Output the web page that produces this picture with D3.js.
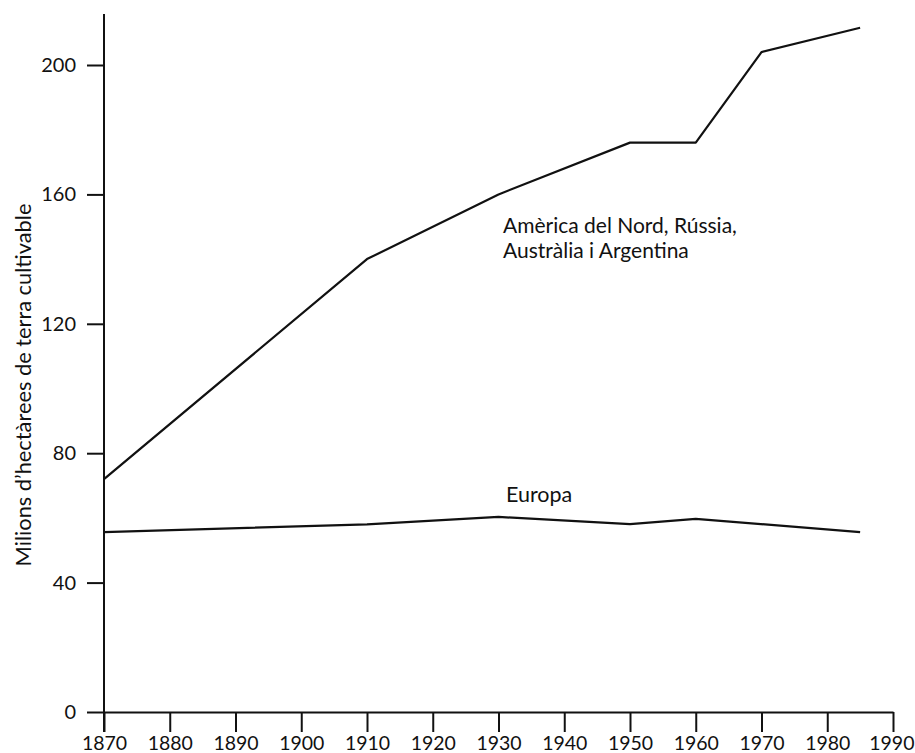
<!DOCTYPE html>
<html>
<head>
<meta charset="utf-8">
<script src="https://cdn.jsdelivr.net/npm/d3@7"></script>
<style>
  body { margin: 0; background: #fff; }
  svg { display: block; }
  text { font-family: Lato, "Open Sans", sans-serif; fill: #111; }
</style>
</head>
<body>
<script>
// data
var years = [1870, 1910, 1930, 1950, 1960, 1970, 1985];
var america = [72, 140, 160, 176, 176, 204, 211.5];
var europaYears = [1870, 1910, 1930, 1950, 1960, 1985];
var europa = [55.6, 58, 60.3, 58.1, 59.7, 55.6];
var xTicks = [1870, 1880, 1890, 1900, 1910, 1920, 1930, 1940, 1950, 1960, 1970, 1980, 1990];
var yTicks = [0, 40, 80, 120, 160, 200];

var width = 915, height = 753;

var svg = d3.select('body').append('svg')
  .attr('width', width)
  .attr('height', height);

var x = d3.scaleLinear().domain([1870, 1990]).range([104, 893]);
var y = d3.scaleLinear().domain([0, 200]).range([712, 65]);

// x axis, ticks hanging below
var xAxis = svg.append('g')
  .attr('transform', 'translate(0,' + y(0) + ')')
  .call(d3.axisBottom(x).tickValues(xTicks).tickFormat(d3.format('d')).tickSize(20).tickSizeOuter(0));
xAxis.select('.domain').attr('stroke-width', 2).attr('stroke', '#111');
xAxis.selectAll('.tick line').attr('stroke-width', 2).attr('stroke', '#111');
xAxis.selectAll('.tick text')
  .attr('dy', '0.71em')
  .attr('y', 24)
  .style('font-size', '19.5px');
// last label would run off the right edge
xAxis.selectAll('.tick text').filter(function(d) { return d === 1990; })
  .attr('text-anchor', 'end')
  .attr('x', 21);

// y axis
var yAxis = svg.append('g')
  .attr('transform', 'translate(' + x(1870) + ',0)')
  .call(d3.axisLeft(y).tickValues(yTicks).tickSize(17).tickSizeOuter(0));
yAxis.select('.domain').remove();
yAxis.selectAll('.tick line').attr('stroke-width', 2).attr('stroke', '#111');
yAxis.selectAll('.tick text')
  .attr('x', -28)
  .style('font-size', '20px');

// y axis line runs past the top tick and down to the x tick ends
svg.append('line')
  .attr('x1', x(1870)).attr('x2', x(1870))
  .attr('y1', y(215.8)).attr('y2', y(0) + 20)
  .attr('stroke', '#111')
  .attr('stroke-width', 2);

svg.append('text')
  .attr('transform', 'translate(31,' + 385 + ') rotate(-90)')
  .attr('text-anchor', 'middle')
  .style('font-size', '21.8px')
  .text('Milions d\u2019hectàrees de terra cultivable');

var line = d3.line()
  .x(function(d) { return x(d[0]); })
  .y(function(d) { return y(d[1]); });

svg.append('path')
  .datum(d3.zip(years, america))
  .attr('d', line)
  .attr('fill', 'none')
  .attr('stroke', '#111')
  .attr('stroke-width', 2.2)
  .attr('stroke-linejoin', 'round');

svg.append('path')
  .datum(d3.zip(europaYears, europa))
  .attr('d', line)
  .attr('fill', 'none')
  .attr('stroke', '#111')
  .attr('stroke-width', 2.2)
  .attr('stroke-linejoin', 'round');

// labels, two separate lines
svg.append('text')
  .attr('x', 503)
  .attr('y', 233)
  .style('font-size', '21px')
  .text('Amèrica del Nord, Rússia,');
svg.append('text')
  .attr('x', 503)
  .attr('y', 258)
  .style('font-size', '21px')
  .text('Austràlia i Argentina');

svg.append('text')
  .attr('x', 506)
  .attr('y', 502)
  .style('font-size', '21.5px')
  .text('Europa');
</script>
</body>
</html>
